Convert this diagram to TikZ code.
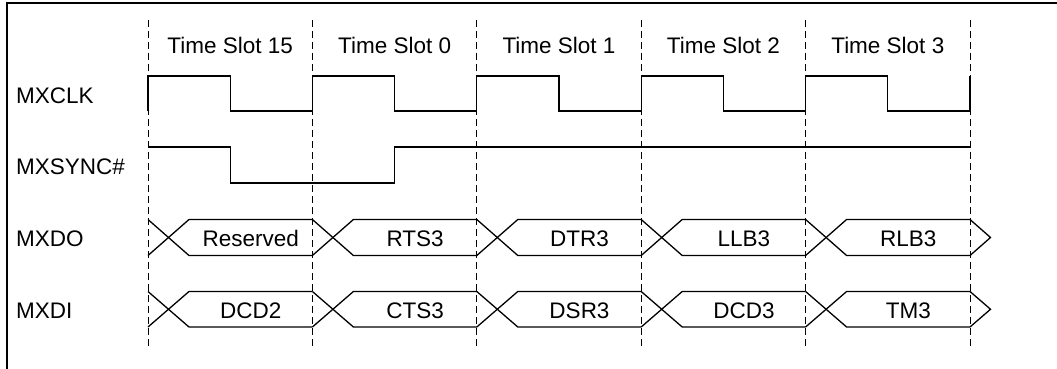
\documentclass[tikz,border=0pt]{standalone}
\usepackage{fontspec}
\setmainfont{Liberation Sans}
\begin{document}
\begin{tikzpicture}[x=1pt,y=-1pt,
  sigline/.style={line width=1.3pt,line join=miter},
  gridline/.style={line width=0.9pt,dash pattern=on 7pt off 4pt},
  framebox/.style={line width=1.6pt},
  slotlbl/.style={inner sep=0pt,anchor=base,font=\fontsize{22.5}{26}\selectfont},
  signame/.style={inner sep=0pt,anchor=base west,font=\fontsize{22.5}{26}\selectfont}]
\useasboundingbox (0,0) rectangle (1057,369);
\fill[white] (0,0) rectangle (1057,369);
% frame
\draw[framebox] (7,369) -- (7,3) -- (1057,3);
% grid lines
\foreach \k in {0,...,5}{
  \pgfmathsetmacro{\X}{148+164.4*\k}
  \draw[gridline] (\X,20) -- (\X,346);
}
% time slot labels
\foreach \k/\t in {0/15,1/0,2/1,3/2,4/3}{
  \pgfmathsetmacro{\X}{148+164.4*\k+82.2}
  \node[slotlbl] (ts\k) at (\X,54) {Time Slot \t};
}
% signal names
\node[signame] (nclk) at (16,103) {MXCLK};
\node[signame] (nsync) at (16,174.5) {MXSYNC\#};
\node[signame] (ndo) at (16,246) {MXDO};
\node[signame] (ndi) at (16,318) {MXDI};
% clock
\foreach \k in {0,...,4}{
  \pgfmathsetmacro{\X}{148+164.4*\k}
  \pgfmathsetmacro{\M}{\X+82.2}
  \pgfmathsetmacro{\N}{\X+164.4}
  \draw[sigline] (\X,111) -- (\X,76) -- (\M,76) -- (\M,111) -- (\N,111);
}
\draw[sigline] (970,111) -- (970,76);
% sync
\draw[sigline] (148,147) -- (230.2,147) -- (230.2,183) -- (394.6,183) -- (394.6,147) -- (970,147);
% buses
\foreach \yt/\yb in {219.5/255.5,291.5/327}{
  \pgfmathsetmacro{\ym}{(\yt+\yb)/2}
  \foreach \k in {0,...,4}{
    \pgfmathsetmacro{\X}{148+164.4*\k}
    \pgfmathsetmacro{\A}{\X+41}
    \pgfmathsetmacro{\N}{\X+164.4}
    \draw[sigline] (\X,\yt) -- (\A,\yb) -- (\N,\yb);
    \draw[sigline] (\X,\yb) -- (\A,\yt) -- (\N,\yt);
  }
  \draw[sigline] (970,\yt) -- (990.5,\ym) -- (970,\yb);
}
\foreach \k/\t in {0/Reserved,1/RTS3,2/DTR3,3/LLB3,4/RLB3}{
  \pgfmathsetmacro{\X}{148+164.4*\k+102.7}
  \node[slotlbl] (do\k) at (\X,246) {\t};
}
\foreach \k/\t in {0/DCD2,1/CTS3,2/DSR3,3/DCD3,4/TM3}{
  \pgfmathsetmacro{\X}{148+164.4*\k+102.7}
  \node[slotlbl] (di\k) at (\X,318) {\t};
}
\end{tikzpicture}
\end{document}
